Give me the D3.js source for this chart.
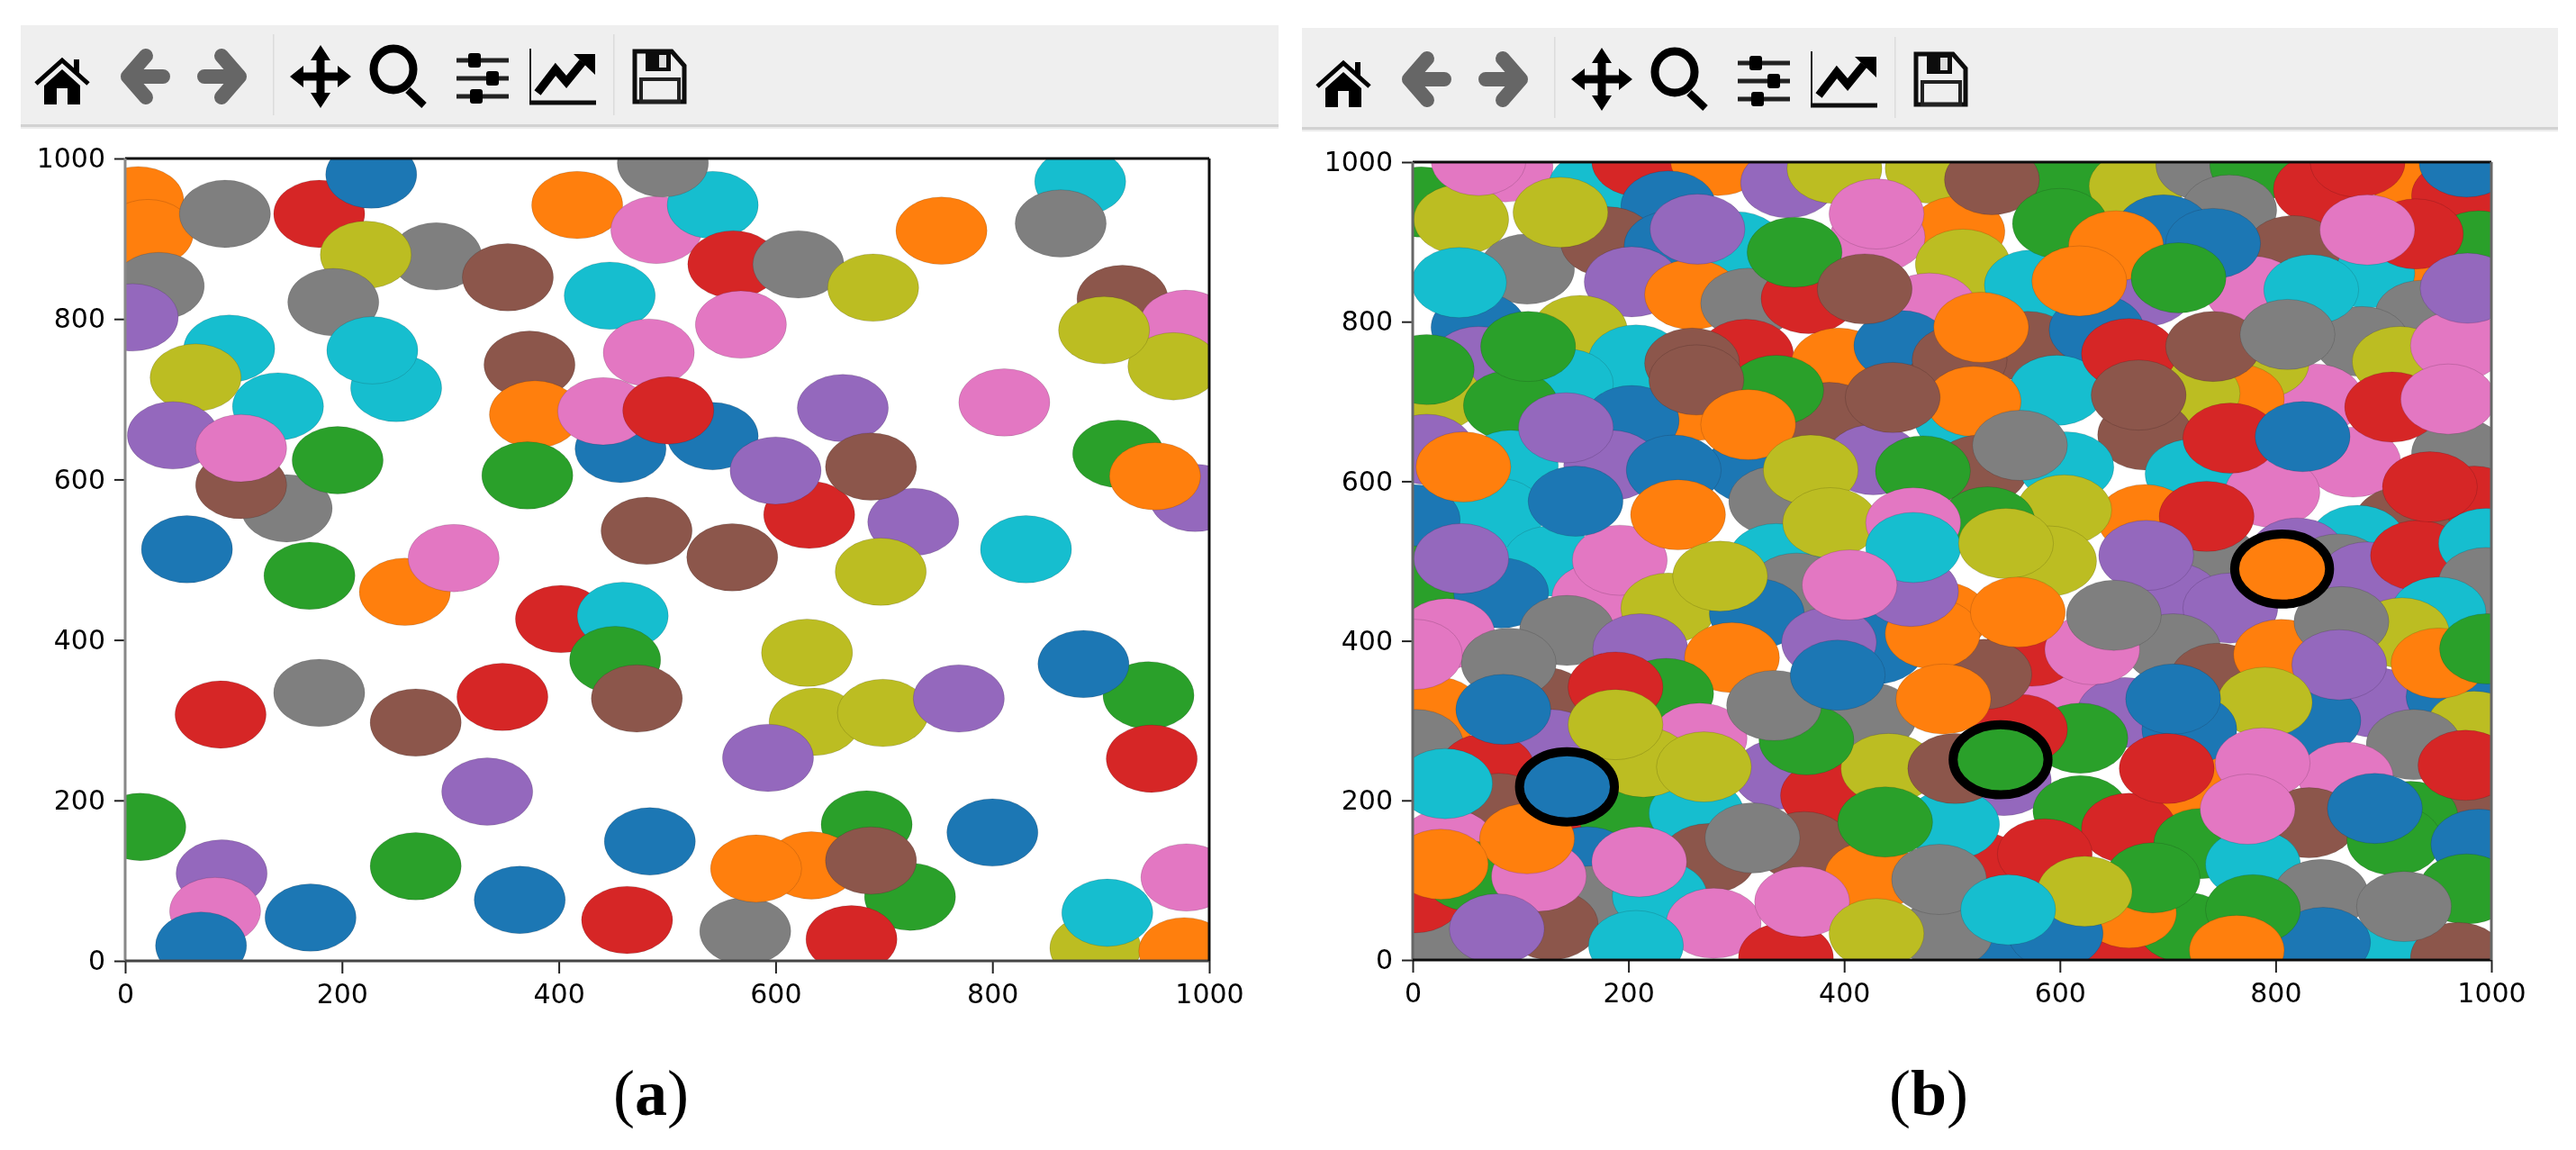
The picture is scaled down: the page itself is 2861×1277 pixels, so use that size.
<!DOCTYPE html>
<html>
<head>
<meta charset="utf-8">
<script src="https://cdn.jsdelivr.net/npm/d3@7"></script>
<style>
  html, body { margin: 0; padding: 0; background: #fff; }
  svg { display: block; }
  .tick text { font-family: "DejaVu Sans"; font-size: 30px; fill: #000; }
</style>
</head>
<body>
<div id="vis"></div>
<script>
// tab10 colours, the c arrays below hold an index into this
const palette = ['#1f77b4', '#ff7f0e', '#2ca02c', '#d62728', '#9467bd', '#8c564b', '#e377c2', '#7f7f7f', '#bcbd22', '#17becf'];
const tickValues = [0, 200, 400, 600, 800, 1000];
const captions = ['a', 'b'];

// panel (a), drawn bottom to top, ten circles per line
const xA = [
  12, 21, 31, 7, 92, 179, 227, 287, 222, 353,
  417, 490, 542, 496, 447, 192, 250, 228, 96, 65,
  141, 44, 149, 107, 107, 196, 57, 373, 378, 371,
  457, 483, 441, 542, 501, 561, 621, 690, 753, 881,
  863, 920, 978, 967, 903, 568, 662, 811, 916, 987,
  950, 631, 600, 727, 688, 481, 560, 831, 697, 170,
  258, 303, 402, 459, 452, 472, 348, 268, 179, 88,
  334, 14, 89, 83, 70, 171, 268, 364, 463, 484,
  629, 636, 699, 769, 593, 944, 884, 947, 684, 800,
  724, 633, 572, 582, 688, 670, 979, 895, 977, 906
];
const yA = [
  948, 907, 841, 802, 931, 931, 980, 878, 880, 852,
  942, 911, 942, 994, 829, 821, 714, 761, 763, 727,
  691, 655, 564, 593, 639, 624, 513, 743, 681, 605,
  638, 758, 685, 654, 686, 868, 868, 839, 910, 971,
  919, 825, 794, 741, 786, 793, 689, 696, 632, 577,
  604, 556, 611, 547, 616, 536, 503, 513, 485, 480,
  460, 502, 426, 430, 375, 327, 329, 297, 334, 307,
  211, 167, 109, 62, 19, 54, 118, 76, 51, 149,
  384, 298, 309, 327, 253, 331, 370, 252, 170, 160,
  80, 119, 37, 115, 125, 27, 104, 16, 12, 60
];
const cA = [
  1, 1, 7, 4, 7, 3, 0, 7, 8, 5,
  1, 6, 9, 7, 9, 7, 9, 9, 9, 8,
  9, 4, 7, 5, 6, 2, 0, 5, 1, 2,
  0, 6, 6, 0, 3, 3, 7, 8, 1, 9,
  7, 5, 6, 8, 8, 6, 4, 6, 2, 4,
  1, 3, 4, 4, 5, 5, 5, 9, 8, 2,
  1, 6, 3, 9, 2, 5, 3, 5, 7, 3,
  4, 2, 4, 6, 0, 0, 2, 0, 3, 0,
  8, 8, 8, 4, 4, 2, 0, 3, 2, 0,
  2, 1, 7, 1, 5, 3, 6, 8, 1, 9
];

// panel (b), drawn bottom to top, ten circles per line
const xB = [
  8, 86, 170, 210, 283, 237, 348, 391, 482, 608,
  671, 733, 783, 842, 923, 970, 757, 696, 988, 505,
  45, 106, 181, 240, 300, 431, 510, 61, 203, 259,
  311, 367, 479, 155, 61, 207, 142, 20, 91, 13,
  309, 395, 453, 501, 259, 263, 203, 13, 91, 184,
  315, 386, 427, 509, 337, 78, 0, 128, 2, 337,
  337, 242, 485, 173, 82, 192, 237, 356, 319, 430,
  574, 928, 885, 816, 779, 679, 570, 507, 634, 936,
  880, 915, 969, 837, 787, 764, 723, 597, 679, 520,
  723, 526, 606, 872, 797, 970, 984, 917, 876, 679,
  604, 590, 820, 742, 858, 533, 885, 932, 995, 995,
  951, 917, 490, 705, 758, 597, 574, 705, 746, 805,
  861, 891, 965, 984, 928, 991, 835, 660, 619, 563,
  548, 530, 723, 865, 831, 925, 910, 988, 619, 664,
  731, 526, 779, 977, 842, 664, 716, 664, 537, 596,
  906, 969, 844, 32, 143, 45, 211, 296, 386, 482,
  462, 235, 121, 21, 3, 128, 266, 423, 341, 385,
  441, 69, 80, 151, 199, 32, 263, 363, 274, 162,
  166, 229, 128, 17, 2, 54, 117, 279, 346, 426,
  494, 500, 503, 61, 137, 43, 107, 264, 354, 430,
  419, 537, 527, 263, 311, 445, 142, 47, 151, 246,
  369, 387, 473, 464, 464, 405, 285, 600, 876, 977,
  930, 885, 833, 978, 652, 742, 618, 710, 664, 673,
  742, 811, 908, 960, 758, 825, 563, 736, 943, 680,
  550, 630, 650, 859, 790, 720, 705, 699, 788, 774,
  892, 976, 951, 996, 779, 764, 919, 586, 686, 623,
  488, 561, 492, 438, 365, 335, 394, 89, 84, 188,
  214, 270, 188, 30, 106, 26, 210, 361, 315, 430,
  552, 78, 207, 2
];
const yB = [
  950, 994, 970, 1001, 1002, 945, 974, 992, 992, 985,
  970, 996, 996, 966, 990, 958, 940, 915, 895, 913,
  928, 866, 900, 895, 894, 906, 872, 793, 850, 834,
  823, 829, 817, 789, 750, 752, 722, 706, 695, 740,
  759, 748, 770, 725, 748, 695, 676, 640, 620, 620,
  616, 680, 627, 678, 714, 560, 552, 500, 475, 575,
  503, 614, 548, 454, 460, 501, 441, 466, 434, 390,
  846, 861, 861, 889, 838, 838, 769, 752, 790, 808,
  775, 750, 770, 703, 748, 703, 710, 714, 658, 700,
  609, 614, 618, 624, 586, 635, 575, 549, 526, 552,
  564, 500, 510, 500, 490, 549, 480, 507, 522, 473,
  436, 410, 430, 454, 441, 357, 387, 390, 353, 383,
  424, 323, 330, 293, 270, 202, 300, 310, 278, 289,
  225, 358, 220, 229, 172, 180, 150, 145, 187, 165,
  146, 116, 120, 89, 82, 7, 41, 59, 14, 33,
  11, 3, 22, 409, 413, 503, 390, 379, 398, 409,
  462, 334, 323, 311, 270, 270, 278, 304, 233, 206,
  240, 240, 190, 180, 176, 146, 184, 142, 127, 123,
  74, 80, 44, 18, 78, 105, 105, 46, 3, 105,
  33, 170, 240, 1002, 937, 849, 769, 916, 887, 935,
  841, 978, 793, 727, 671, 705, 667, 618, 575, 558,
  614, 548, 613, 548, 517, 470, 481, 923, 1000, 1000,
  910, 915, 840, 842, 895, 898, 851, 855, 760, 708,
  769, 784, 693, 703, 654, 656, 645, 556, 593, 507,
  522, 389, 432, 370, 323, 289, 327, 240, 247, 189,
  190, 244, 372, 390, 63, 12, 67, 133, 103, 86,
  101, 436, 327, 173, 276, 319, 357, 372, 314, 342,
  248, 242, 295, 221, 152, 120, 123, 73, 153, 33,
  63, 39, 18, 383
];
const cB = [
  2, 6, 9, 3, 1, 0, 4, 8, 8, 2,
  8, 7, 2, 3, 1, 3, 7, 0, 2, 1,
  8, 7, 5, 0, 9, 6, 8, 0, 4, 1,
  7, 3, 6, 8, 4, 9, 9, 8, 2, 2,
  3, 1, 0, 5, 5, 1, 0, 4, 9, 4,
  0, 5, 4, 9, 2, 9, 0, 9, 2, 7,
  9, 0, 6, 6, 0, 6, 8, 7, 0, 0,
  9, 1, 9, 5, 6, 4, 5, 5, 0, 7,
  7, 8, 6, 6, 8, 1, 8, 9, 5, 1,
  9, 5, 9, 6, 6, 7, 3, 5, 9, 1,
  8, 8, 4, 7, 7, 2, 4, 3, 9, 7,
  9, 8, 1, 4, 4, 6, 3, 7, 5, 1,
  7, 4, 0, 8, 7, 5, 0, 4, 2, 3,
  4, 5, 1, 6, 5, 2, 2, 0, 2, 3,
  2, 3, 9, 2, 7, 3, 2, 1, 0, 0,
  9, 5, 0, 6, 7, 4, 4, 1, 4, 1,
  4, 2, 5, 1, 7, 4, 6, 7, 4, 3,
  8, 3, 5, 3, 2, 6, 9, 5, 5, 0,
  7, 9, 5, 7, 3, 2, 6, 6, 3, 1,
  7, 9, 5, 6, 8, 9, 2, 4, 2, 6,
  5, 5, 1, 5, 1, 5, 4, 1, 0, 1,
  8, 8, 2, 6, 9, 6, 8, 2, 3, 0,
  3, 6, 9, 4, 1, 0, 1, 2, 3, 5,
  5, 7, 3, 6, 3, 0, 7, 3, 3, 4,
  8, 6, 7, 4, 8, 0, 0, 3, 6, 6,
  0, 3, 1, 2, 2, 1, 7, 3, 2, 8,
  7, 1, 1, 2, 2, 7, 0, 7, 0, 3,
  8, 8, 8, 9, 1, 1, 6, 6, 7, 8,
  9, 4, 9, 6
];

// the three circles with a black outline in panel (b)
const ringX = [143, 545, 806];
const ringY = [217, 251, 490];
const ringC = [0, 2, 1];

const svgRoot = d3.select('#vis').append('svg')
    .attr('width', 2861)
    .attr('height', 1277);

// the source is a scaled screenshot, so everything is a little soft
svgRoot.append('filter').attr('id', 'soft')
    .append('feGaussianBlur').attr('stdDeviation', 0.6);

const svg = svgRoot.append('g').attr('filter', 'url(#soft)');
svg.append('rect').attr('width', 2861).attr('height', 1277).attr('fill', '#fff');

function drawToolbar(x, y, w) {
    const bar = svg.append('g').attr('transform', `translate(${x},${y})`);
    bar.append('rect').attr('width', w).attr('height', 110).attr('fill', '#efefef');
    bar.append('rect').attr('y', 110).attr('width', w).attr('height', 3).attr('fill', '#d2d2d2');
    bar.append('rect').attr('y', 113).attr('width', w).attr('height', 2).attr('fill', '#ececec');

    const icon = (cx, cy) => bar.append('g').attr('transform', `translate(${cx - x},${cy - y})`);
    const ox = x - 23, oy = y - 28;

    [303, 681].forEach(sx => bar.append('rect')
        .attr('x', sx - 23).attr('y', 10).attr('width', 1.5).attr('height', 90).attr('fill', '#dcdcdc'));

    // home
    const home = icon(69 + ox, 90 + oy);
    home.append('path').attr('d', 'M-20,5 L0,-13 L20,5 V26 H6 V8 H-6 V26 H-20Z').attr('fill', '#000');
    home.append('path').attr('d', 'M-29,3 L0,-23 L29,3').attr('fill', 'none').attr('stroke', '#000').attr('stroke-width', 5);
    home.append('rect').attr('x', 13).attr('y', -24).attr('width', 6).attr('height', 16).attr('fill', '#000');

    // back and forward
    [[161, 1], [247, -1]].forEach(([cx, dir]) => {
        icon(cx + ox, 85 + oy).append('path')
            .attr('d', `M${-19 * dir},0 L${1 * dir},-23 M${-19 * dir},0 L${1 * dir},23 M${-19 * dir},0 H${20 * dir}`)
            .attr('fill', 'none').attr('stroke', '#666')
            .attr('stroke-width', 16).attr('stroke-linecap', 'round').attr('stroke-linejoin', 'round');
    });

    // pan
    const move = icon(356 + ox, 85 + oy);
    move.append('path').attr('d', 'M0,-26 V26 M-26,0 H26').attr('stroke', '#000').attr('stroke-width', 9);
    move.append('path').attr('d', 'M0,-35 L-11,-18 H11Z M0,35 L-11,18 H11Z M-34,0 L-19,-12 V12Z M34,0 L19,-12 V12Z').attr('fill', '#000');

    // zoom
    const zoom = icon(441 + ox, 84 + oy);
    zoom.append('ellipse').attr('cx', -4).attr('cy', -7).attr('rx', 22).attr('ry', 23)
        .attr('fill', 'none').attr('stroke', '#000').attr('stroke-width', 9);
    zoom.append('path').attr('d', 'M12,16 L30,33').attr('stroke', '#000').attr('stroke-width', 8);

    // sliders
    const sliders = icon(536 + ox, 87 + oy);
    [[-20, -9], [0, 11], [20, -7]].forEach(([ly, kx]) => {
        sliders.append('rect').attr('x', -29).attr('y', ly - 2.5).attr('width', 58).attr('height', 5).attr('fill', '#222');
        sliders.append('rect').attr('x', kx - 7).attr('y', ly - 8).attr('width', 14).attr('height', 16).attr('rx', 3).attr('fill', '#000');
    });

    // chart
    const chart = icon(625 + ox, 85 + oy);
    chart.append('path').attr('d', 'M-36,-31 V30').attr('stroke', '#222').attr('stroke-width', 2);
    chart.append('path').attr('d', 'M-37,29 H37').attr('stroke', '#111').attr('stroke-width', 5);
    chart.append('path').attr('d', 'M-28,18 L-8,-8 L4,6 L22,-16').attr('fill', 'none').attr('stroke', '#000').attr('stroke-width', 9);
    chart.append('path').attr('d', 'M12,-25 H36 V-2Z').attr('fill', '#000');

    // save
    const save = icon(732 + ox, 85 + oy);
    save.append('path').attr('d', 'M-27,-28 H14 L28,-12 V28 H-27Z').attr('fill', 'none').attr('stroke', '#111').attr('stroke-width', 5);
    save.append('rect').attr('x', -15).attr('y', -28).attr('width', 28).attr('height', 22).attr('fill', '#111');
    save.append('rect').attr('x', 0).attr('y', -24).attr('width', 8).attr('height', 14).attr('fill', '#ddd');
    save.append('rect').attr('x', -20).attr('y', 3).attr('width', 42).attr('height', 25).attr('fill', 'none').attr('stroke', '#222').attr('stroke-width', 4);
}

function drawPanel(opts) {
    const {left, right, top, bottom, xs, ys, cs, radius, id, spines} = opts;

    const xScale = d3.scaleLinear().domain([0, 1000]).range([left, right]);
    const yScale = d3.scaleLinear().domain([0, 1000]).range([bottom, top]);
    const rx = xScale(radius) - xScale(0);
    const ry = yScale(0) - yScale(radius);

    svg.append('clipPath').attr('id', id)
        .append('rect')
        .attr('x', left).attr('y', top)
        .attr('width', right - left).attr('height', bottom - top);

    const plot = svg.append('g').attr('clip-path', `url(#${id})`);

    plot.selectAll('ellipse.dot')
        .data(d3.range(xs.length))
        .join('ellipse')
        .attr('class', 'dot')
        .attr('cx', i => xScale(xs[i]))
        .attr('cy', i => yScale(ys[i]))
        .attr('rx', rx)
        .attr('ry', ry)
        .attr('fill', i => palette[cs[i]])
        .attr('stroke', '#000')
        .attr('stroke-opacity', 0.14)
        .attr('stroke-width', 1);

    if (opts.rings) {
        plot.selectAll('ellipse.ring')
            .data(d3.range(ringX.length))
            .join('ellipse')
            .attr('class', 'ring')
            .attr('cx', i => xScale(ringX[i]))
            .attr('cy', i => yScale(ringY[i]))
            .attr('rx', rx)
            .attr('ry', ry)
            .attr('fill', i => palette[ringC[i]])
            .attr('stroke', '#000')
            .attr('stroke-width', 10);
    }

    const xAxis = svg.append('g')
        .attr('transform', `translate(0,${bottom})`)
        .call(d3.axisBottom(xScale).tickValues(tickValues).tickSize(14).tickPadding(12).tickFormat(d3.format('d')));
    const yAxis = svg.append('g')
        .attr('transform', `translate(${left},0)`)
        .call(d3.axisLeft(yScale).tickValues(tickValues).tickSize(12).tickPadding(10).tickFormat(d3.format('d')));

    [xAxis, yAxis].forEach(a => {
        a.select('.domain').remove();
        a.selectAll('.tick line').attr('stroke', '#222').attr('stroke-width', 2);
    });

    // spines are not the same shade on each side in the source
    const edges = [
        [left, top, right, top, spines.top],
        [left, top, left, bottom, spines.left],
        [left, bottom, right, bottom, spines.bottom],
        [right, top, right, bottom, spines.right]
    ];
    svg.selectAll(null)
        .data(edges, (d, i) => i)
        .enter().append('line')
        .attr('x1', d => d[0]).attr('y1', d => d[1])
        .attr('x2', d => d[2]).attr('y2', d => d[3])
        .attr('stroke', d => d[4])
        .attr('stroke-width', 3);
}

function drawCaption(x, y, letter) {
    const t = svg.append('text')
        .attr('x', x).attr('y', y)
        .attr('text-anchor', 'middle')
        .attr('font-family', '"Liberation Serif"')
        .attr('font-size', 72)
        .attr('fill', '#000');
    t.append('tspan').text('(');
    t.append('tspan').attr('font-weight', 'bold').text(letter);
    t.append('tspan').text(')');
}

drawToolbar(23, 28, 1397);
drawToolbar(1446, 31, 1395);

drawPanel({
    id: 'clipA', left: 139, right: 1343, top: 176, bottom: 1067,
    xs: xA, ys: yA, cs: cA, radius: 42,
    spines: {top: '#111', left: '#888', bottom: '#444', right: '#111'}
});
drawPanel({
    id: 'clipB', left: 1569, right: 2767, top: 180, bottom: 1066,
    xs: xB, ys: yB, cs: cB, radius: 44, rings: true,
    spines: {top: '#111', left: '#666', bottom: '#111', right: '#666'}
});

drawCaption(723, 1238, captions[0]);
drawCaption(2142, 1238, captions[1]);
</script>
</body>
</html>
